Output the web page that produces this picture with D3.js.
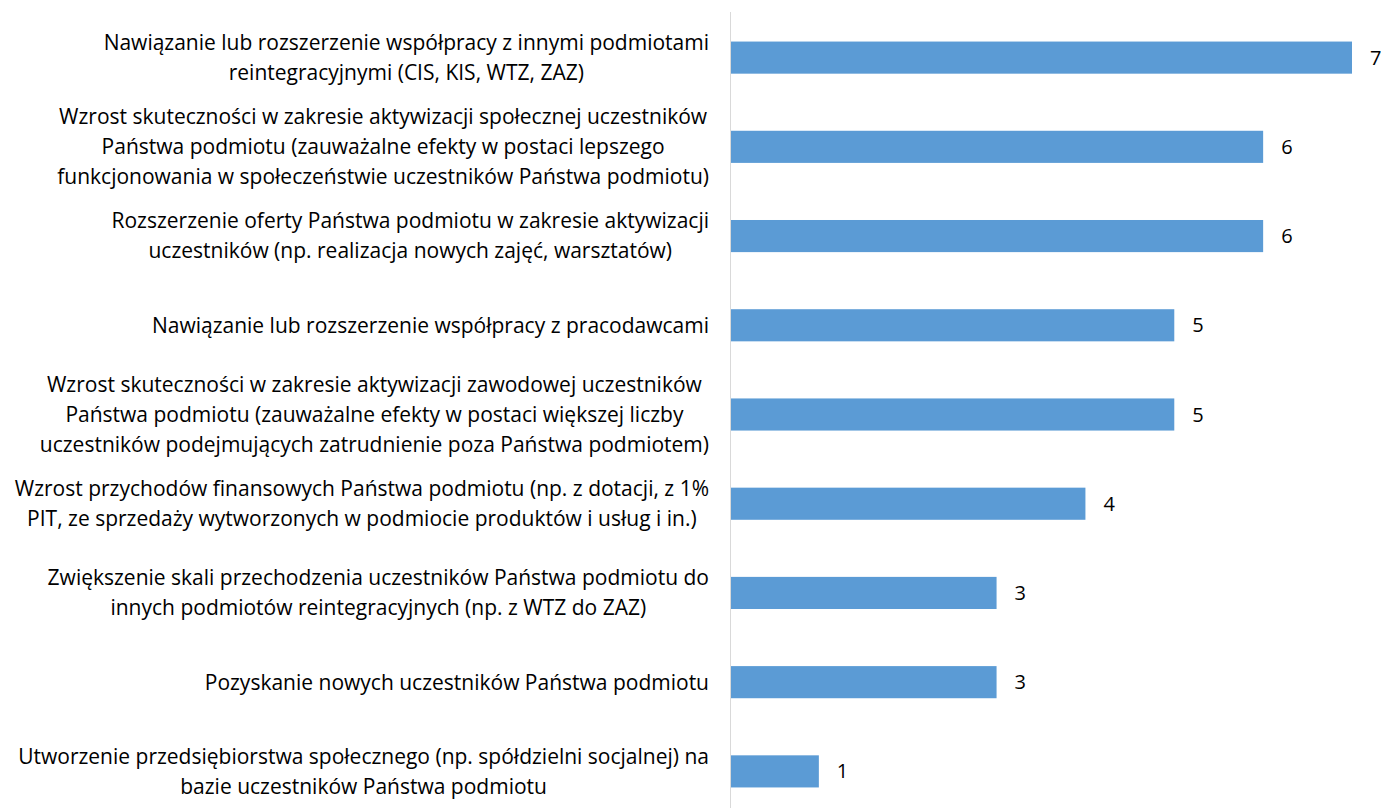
<!DOCTYPE html>
<html><head><meta charset="utf-8">
<script src="https://cdn.jsdelivr.net/npm/d3@7"></script>
<style>html,body{margin:0;padding:0;background:#fff;}svg{display:block;}</style>
</head><body>
<svg id="chart" width="1381" height="810"></svg>
<script>
const categories = [
  ["Nawiązanie lub rozszerzenie współpracy z innymi podmiotami", "reintegracyjnymi (CIS, KIS, WTZ, ZAZ)"],
  ["Wzrost skuteczności w zakresie aktywizacji społecznej uczestników", "Państwa podmiotu (zauważalne efekty w postaci lepszego", "funkcjonowania w społeczeństwie uczestników Państwa podmiotu)"],
  ["Rozszerzenie oferty Państwa podmiotu w zakresie aktywizacji", "uczestników (np. realizacja nowych zajęć, warsztatów)"],
  ["Nawiązanie lub rozszerzenie współpracy z pracodawcami"],
  ["Wzrost skuteczności w zakresie aktywizacji zawodowej uczestników", "Państwa podmiotu (zauważalne efekty w postaci większej liczby", "uczestników podejmujących zatrudnienie poza Państwa podmiotem)"],
  ["Wzrost przychodów finansowych Państwa podmiotu (np. z dotacji, z 1%", "PIT, ze sprzedaży wytworzonych w podmiocie produktów i usług i in.)"],
  ["Zwiększenie skali przechodzenia uczestników Państwa podmiotu do", "innych podmiotów reintegracyjnych (np. z WTZ do ZAZ)"],
  ["Pozyskanie nowych uczestników Państwa podmiotu"],
  ["Utworzenie przedsiębiorstwa społecznego (np. spółdzielni socjalnej) na", "bazie uczestników Państwa podmiotu"]
];
const values = [7, 6, 6, 5, 5, 4, 3, 3, 1];

const fontFamily = "'Open Sans', sans-serif";
const fontSize = 21;
const axisX = 730, labelRight = 709;

const svg = d3.select("#chart");

const x = d3.scaleLinear().domain([0, 7]).range([axisX, 1352]);
const y = d3.scaleBand().domain(d3.range(categories.length)).range([13, 816])
  .paddingInner(0.64).paddingOuter(0.32);

svg.append("g").selectAll("rect").data(values).join("rect")
  .attr("x", x(0)).attr("y", (d, i) => y(i))
  .attr("width", d => x(d) - x(0)).attr("height", y.bandwidth())
  .attr("fill", "#5B9BD5");

svg.append("line").attr("x1", axisX + 0.5).attr("x2", axisX + 0.5).attr("y1", 12).attr("y2", 808)
  .attr("stroke", "#d9d9d9").attr("stroke-width", 1);

const lineH = 30;
const lg = svg.append("g").attr("font-family", fontFamily).attr("font-size", fontSize).attr("fill", "#000");
categories.forEach((lines, i) => {
  const t = lg.append("text").attr("text-anchor", "end");
  const spans = lines.map(s => t.append("tspan").text(s));
  const widths = spans.map(sp => sp.node().getComputedTextLength());
  const maxW = d3.max(widths);
  const cy = y(i) + y.bandwidth() / 2;
  spans.forEach((sp, j) => {
    sp.attr("x", labelRight - (maxW - widths[j]) / 2)
      .attr("y", cy + (j - (lines.length - 1) / 2) * lineH).attr("dy", "0.35em");
  });
});

svg.append("g").attr("font-family", fontFamily).attr("font-size", 20).attr("fill", "#000")
  .selectAll("text").data(values).join("text")
  .attr("x", d => x(d) + 18).attr("y", (d, i) => y(i) + y.bandwidth() / 2).attr("dy", "0.35em")
  .text(d => d);
</script>
</body></html>
